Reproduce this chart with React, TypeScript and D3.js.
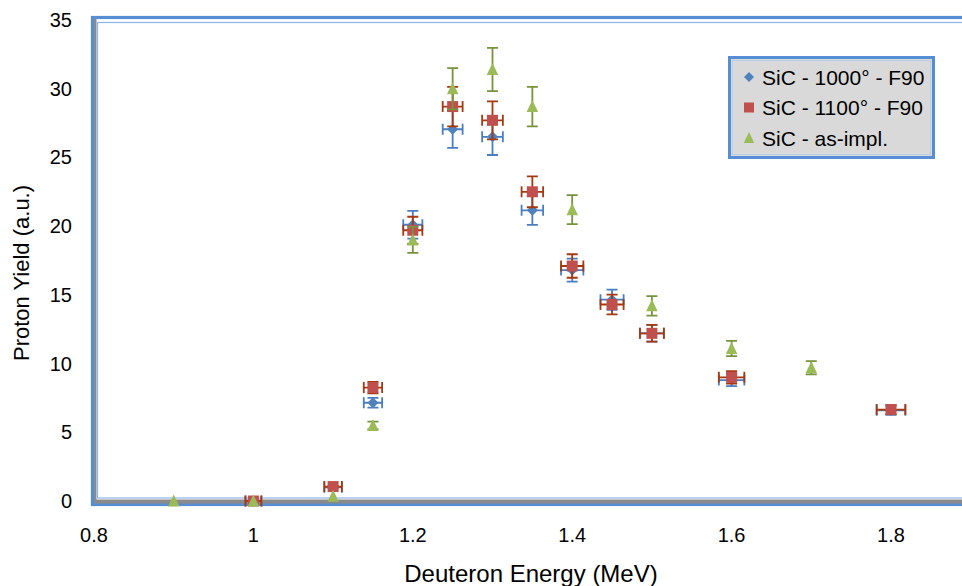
import React from "react";
import * as d3 from "d3";

const energiesA = [1.0, 1.1, 1.15, 1.2, 1.25, 1.3, 1.35, 1.4, 1.45, 1.5, 1.6, 1.8];
const yieldA = [0, 1.0, 7.15, 20.1, 27.05, 26.5, 21.15, 16.8, 14.65, 12.2, 8.8, 6.6];

const energiesB = [1.0, 1.1, 1.15, 1.2, 1.25, 1.3, 1.35, 1.4, 1.45, 1.5, 1.6, 1.8];
const yieldB = [0, 1.05, 8.25, 19.7, 28.7, 27.7, 22.5, 17.1, 14.3, 12.2, 9.0, 6.65];

const energiesC = [0.9, 1.0, 1.1, 1.15, 1.2, 1.25, 1.3, 1.35, 1.4, 1.5, 1.6, 1.7];
const yieldC = [0, 0, 0.35, 5.5, 19.0, 30.0, 31.4, 28.7, 21.2, 14.2, 11.1, 9.7];

const seriesNames = ["SiC - 1000° - F90", "SiC - 1100° - F90", "SiC - as-impl."];
const xTicks = [0.8, 1, 1.2, 1.4, 1.6, 1.8];
const yTicks = [0, 5, 10, 15, 20, 25, 30, 35];
const xTitle = "Deuteron Energy (MeV)";
const yTitle = "Proton Yield (a.u.)";

const yErrFrac = 0.05;
const xErrFrac = 0.01;

const W = 962;
const H = 586;
const FONT = "'Liberation Sans', Arial, sans-serif";

const x = d3.scaleLinear().domain([0.8, 1.8]).range([94, 891]);
const y = d3.scaleLinear().domain([0, 35]).range([501, 20]);

type Series = {
  name: string;
  xs: number[];
  ys: number[];
  shape: "diamond" | "square" | "triangle";
  fill: string;
  bar: string;
  xErr: boolean;
};

const series: Series[] = [
  { name: seriesNames[0], xs: energiesA, ys: yieldA, shape: "diamond", fill: "#4F81BD", bar: "#4A7EC4", xErr: true },
  { name: seriesNames[1], xs: energiesB, ys: yieldB, shape: "square", fill: "#C0504D", bar: "#A5380F", xErr: true },
  { name: seriesNames[2], xs: energiesC, ys: yieldC, shape: "triangle", fill: "#9BBB59", bar: "#77933C", xErr: false },
];

const symbolFor = (shape: string, size: number) => {
  if (shape === "diamond") {
    const r = size / 2;
    return `M0,${-r}L${r},0L0,${r}L${-r},0Z`;
  }
  if (shape === "square") {
    const r = size / 2;
    return `M${-r},${-r}H${r}V${r}H${-r}Z`;
  }
  const h = size;
  const w = size * 1.05;
  return `M0,${-h / 2 - 1}L${w / 2},${h / 2}L${-w / 2},${h / 2}Z`;
};

const markerSize = (shape: string) => (shape === "diamond" ? 11 : shape === "square" ? 11 : 11);

function ErrorBars({ s }: { s: Series }) {
  const cap = 5.5;
  return (
    <g stroke={s.bar} strokeWidth={1.8} fill="none">
      {s.xs.map((e, i) => {
        const cx = x(e);
        const cy = y(s.ys[i]);
        const dy = y(s.ys[i] - s.ys[i] * yErrFrac) - cy;
        const parts: React.ReactNode[] = [];
        if (dy > 0.5) {
          parts.push(
            <path
              key="y"
              d={`M${cx},${cy - dy}V${cy + dy}M${cx - cap},${cy - dy}H${cx + cap}M${cx - cap},${cy + dy}H${cx + cap}`}
            />
          );
        }
        if (s.xErr) {
          const x0 = x(e * (1 - xErrFrac));
          const x1 = x(e * (1 + xErrFrac));
          parts.push(
            <path
              key="x"
              d={`M${x0},${cy}H${x1}M${x0},${cy - cap}V${cy + cap}M${x1},${cy - cap}V${cy + cap}`}
            />
          );
        }
        return <g key={i}>{parts}</g>;
      })}
    </g>
  );
}

function Markers({ s }: { s: Series }) {
  const p = symbolFor(s.shape, markerSize(s.shape));
  return (
    <g fill={s.fill}>
      {s.xs.map((e, i) => (
        <path key={i} d={p} transform={`translate(${x(e)},${y(s.ys[i])})`} />
      ))}
    </g>
  );
}

export default function App() {
  const blue = "#558ED5";
  const light = "#95B9E6";
  const frameRight = W + 20;
  return (
    <svg
      width={W}
      height={H}
      style={{ position: "absolute", left: 0, top: 0, display: "block", background: "#fff" }}
      fontFamily={FONT}
    >
      {/* plot frame */}
      <rect x={92.5} y={17.5} width={frameRight} height={487} fill="#fff" stroke={blue} strokeWidth={3.2} />
      <rect x={94} y={499.5} width={frameRight} height={4} fill="#8A8A8A" />
      <rect x={94} y={19} width={2.5} height={484} fill="#8A8A8A" />
      <rect x={97.5} y={22.5} width={frameRight} height={475.5} fill="none" stroke={light} strokeWidth={1.3} />

      {/* data */}
      {series.map((s) => (
        <g key={s.name}>
          <ErrorBars s={s} />
          <Markers s={s} />
        </g>
      ))}

      {/* y ticks */}
      <g fontSize={20} fill="#000" textAnchor="end">
        {yTicks.map((t) => (
          <text key={t} x={72} y={y(t)} dy="0.35em">
            {t}
          </text>
        ))}
      </g>
      {/* x ticks */}
      <g fontSize={20} fill="#000" textAnchor="middle">
        {xTicks.map((t) => (
          <text key={t} x={x(t)} y={542}>
            {t}
          </text>
        ))}
      </g>
      <text x={531} y={582} fontSize={24} textAnchor="middle" fill="#000">
        {xTitle}
      </text>
      <text
        transform={`translate(29,${273}) rotate(-90)`}
        fontSize={22}
        textAnchor="middle"
        fill="#000"
      >
        {yTitle}
      </text>

      {/* legend */}
      <g>
        <rect x={729.5} y={57.5} width={204} height={100} fill="#D9D9D9" stroke={blue} strokeWidth={3} />
        <rect x={732.5} y={60.5} width={198} height={94} fill="none" stroke="#B8CFEA" strokeWidth={1} />
        {series.map((s, i) => {
          const cy = 77 + i * 30.5;
          return (
            <g key={s.name}>
              <path d={symbolFor(s.shape, 10)} transform={`translate(749,${cy})`} fill={s.fill} />
              <text x={762} y={cy} dy="0.36em" fontSize={21} fill="#000">
                {s.name}
              </text>
            </g>
          );
        })}
      </g>
    </svg>
  );
}
